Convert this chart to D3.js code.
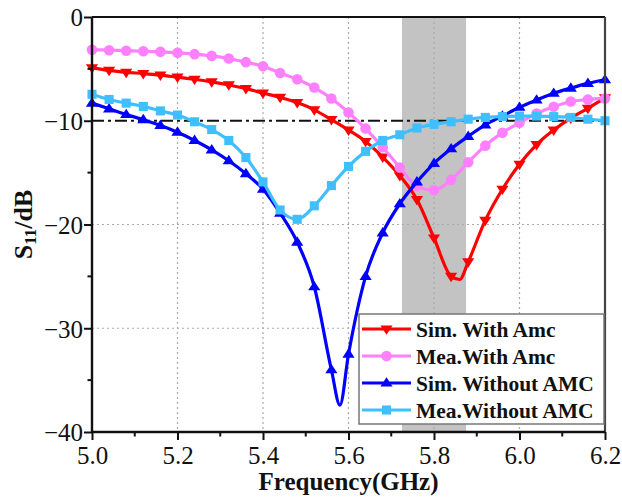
<!DOCTYPE html>
<html>
<head>
<meta charset="utf-8">
<script src="https://cdn.jsdelivr.net/npm/d3@7"></script>
<style>
  html, body { margin: 0; padding: 0; background: #fff; }
  svg { display: block; }
</style>
</head>
<body>
<svg id="chart" width="622" height="500"></svg>
<script>
// Frequency samples (GHz)
const freqMea = [5.00, 5.04, 5.08, 5.12, 5.16, 5.20, 5.24, 5.28, 5.32, 5.36, 5.40,
                 5.44, 5.48, 5.52, 5.56, 5.60, 5.64, 5.68, 5.72, 5.76, 5.80,
                 5.84, 5.88, 5.92, 5.96, 6.00, 6.04, 6.08, 6.12, 6.16, 6.20];
const freqSimWith = [5.00, 5.04, 5.08, 5.12, 5.16, 5.20, 5.24, 5.28, 5.32, 5.36, 5.40,
                     5.44, 5.48, 5.52, 5.56, 5.60, 5.64, 5.68, 5.72, 5.76, 5.80,
                     5.84, 5.86, 5.88, 5.92, 5.96, 6.00, 6.04, 6.08, 6.12, 6.16, 6.20];
const freqSimWithout = [5.00, 5.04, 5.08, 5.12, 5.16, 5.20, 5.24, 5.28, 5.32, 5.36, 5.40,
                        5.44, 5.48, 5.52, 5.56, 5.58, 5.60, 5.64, 5.68, 5.72, 5.76, 5.80,
                        5.84, 5.88, 5.92, 5.96, 6.00, 6.04, 6.08, 6.12, 6.16, 6.20];

// S11 (dB)
const simWithAmc = [-4.9, -5.15, -5.33, -5.45, -5.6, -5.8, -6.0, -6.25, -6.55, -6.9, -7.33,
                    -7.75, -8.25, -8.95, -9.9, -10.9, -12.0, -13.5, -15.3, -17.6, -21.3,
                    -25.0, -25.3, -23.6, -19.6, -16.6, -14.2, -12.3, -10.9, -9.75, -8.8, -7.8];
const meaWithAmc = [-3.15, -3.2, -3.25, -3.3, -3.36, -3.45, -3.58, -3.75, -4.0, -4.35, -4.75,
                    -5.4, -6.0, -6.8, -7.85, -9.2, -10.75, -12.55, -14.5, -16.3, -16.7,
                    -15.7, -14.0, -12.4, -11.15, -10.2, -9.3, -8.65, -8.15, -7.95, -7.85];
const simWithoutAmc = [-8.3, -8.85, -9.4, -9.9, -10.45, -11.1, -11.9, -12.8, -13.85, -15.1, -16.6,
                       -18.9, -21.7, -26.0, -34.0, -37.4, -32.5, -25.0, -20.8, -18.0, -15.9, -14.1,
                       -12.7, -11.5, -10.4, -9.55, -8.7, -8.0, -7.35, -6.85, -6.4, -6.05];
const meaWithoutAmc = [-7.45, -7.95, -8.3, -8.62, -9.05, -9.45, -10.1, -10.85, -11.9, -13.55, -15.9,
                       -18.6, -19.5, -18.2, -16.25, -14.4, -12.95, -11.9, -11.35, -10.7, -10.35,
                       -10.1, -9.85, -9.68, -9.6, -9.55, -9.55, -9.6, -9.68, -9.85, -10.0];

const seriesNames = ["Sim. With Amc", "Mea.With Amc", "Sim. Without AMC", "Mea.Without AMC"];
const seriesColors = ["#ff0000", "#ff80ff", "#0000ff", "#40bfff"];
const seriesSymbols = ["triDown", "circle", "triUp", "square"];

// Axis ticks and reference levels
const xTicks = [5.0, 5.2, 5.4, 5.6, 5.8, 6.0, 6.2];
const xMinorTicks = [5.1, 5.3, 5.5, 5.7, 5.9, 6.1];
const yTicks = [0, -10, -20, -30, -40];
const yMinorTicks = [-5, -15, -25, -35];
const bandRange = [5.725, 5.875];
const thresholdDb = -10;

const FONT = "'Liberation Serif', 'Times New Roman', Times, serif";

const svg = d3.select("#chart");
const margin = { left: 92, top: 17, right: 17, bottom: 68 };
const W = 622, H = 500;
const iw = W - margin.left - margin.right;
const ih = H - margin.top - margin.bottom;

const x = d3.scaleLinear().domain([5.0, 6.2]).range([0, iw]);
const y = d3.scaleLinear().domain([-40, 0]).range([ih, 0]);

const g = svg.append("g").attr("transform", `translate(${margin.left},${margin.top})`);

// Shaded band
g.append("rect")
  .attr("x", x(bandRange[0]))
  .attr("y", 0)
  .attr("width", x(bandRange[1]) - x(bandRange[0]))
  .attr("height", ih)
  .attr("fill", "#c3c3c3");

// Dotted grid
const grid = g.append("g").attr("stroke", "#aaaaaa").attr("stroke-width", 1.2)
  .attr("stroke-dasharray", "2,3");
grid.selectAll("line.vx").data(xTicks.slice(1, -1)).join("line")
  .attr("x1", d => x(d)).attr("x2", d => x(d)).attr("y1", 0).attr("y2", ih);
grid.selectAll("line.hy").data([-20, -30]).join("line")
  .attr("y1", d => y(d)).attr("y2", d => y(d)).attr("x1", 0).attr("x2", iw);

// -10 dB reference (dash-dot)
g.append("line")
  .attr("x1", 0).attr("x2", iw)
  .attr("y1", y(thresholdDb)).attr("y2", y(thresholdDb))
  .attr("stroke", "#111").attr("stroke-width", 2.2)
  .attr("stroke-dasharray", "12,4,3,4");

// Markers
function symbolPath(kind, s) {
  if (kind === "circle") return d3.symbol(d3.symbolCircle, s * s * 0.8)();
  if (kind === "square") return d3.symbol(d3.symbolSquare, s * s * 0.75)();
  const h = s * 0.9, w = s * 0.58;
  if (kind === "triUp") return `M0,${-h * 0.62}L${w},${h * 0.38}L${-w},${h * 0.38}Z`;
  return `M0,${h * 0.62}L${w},${-h * 0.38}L${-w},${-h * 0.38}Z`;
}

const onGrid = f => Math.abs((f - 5) / 0.04 - Math.round((f - 5) / 0.04)) < 1e-6;

const allSeries = [
  { f: freqSimWith, v: simWithAmc },
  { f: freqMea, v: meaWithAmc },
  { f: freqSimWithout, v: simWithoutAmc },
  { f: freqMea, v: meaWithoutAmc }
];

const line = d3.line().x(d => x(d[0])).y(d => y(d[1])).curve(d3.curveMonotoneX);

allSeries.forEach((s, i) => {
  const pts = s.f.map((f, k) => [f, s.v[k]]);
  const sg = g.append("g");
  sg.append("path").datum(pts)
    .attr("d", line)
    .attr("fill", "none")
    .attr("stroke", seriesColors[i])
    .attr("stroke-width", 3.2)
    .attr("stroke-linejoin", "round");
  sg.selectAll("path.m").data(pts.filter(p => onGrid(p[0]))).join("path")
    .attr("class", "m")
    .attr("transform", d => `translate(${x(d[0])},${y(d[1])})`)
    .attr("d", symbolPath(seriesSymbols[i], 10.5))
    .attr("fill", seriesColors[i]);
});

// Axes
const axisStyle = sel => {
  sel.selectAll("text").attr("font-family", FONT).attr("font-size", 25).attr("fill", "#111");
  sel.selectAll("line").attr("stroke", "#111").attr("stroke-width", 2);
  sel.select(".domain").remove();
};

const xAxis = g.append("g").attr("transform", `translate(0,${ih})`)
  .call(d3.axisBottom(x).tickValues(xTicks).tickSize(8).tickPadding(6).tickFormat(d3.format(".1f")));
axisStyle(xAxis);
g.append("g").attr("transform", `translate(0,${ih})`)
  .selectAll("line").data(xMinorTicks).join("line")
  .attr("x1", d => x(d)).attr("x2", d => x(d)).attr("y1", 0).attr("y2", 4.5)
  .attr("stroke", "#111").attr("stroke-width", 2);

const yAxis = g.append("g")
  .call(d3.axisLeft(y).tickValues(yTicks).tickSize(8).tickPadding(1).tickFormat(d3.format("d")));
axisStyle(yAxis);
yAxis.selectAll("text").attr("dy", "0.35em");
g.append("g").selectAll("line").data(yMinorTicks).join("line")
  .attr("y1", d => y(d)).attr("y2", d => y(d)).attr("x1", 0).attr("x2", -4.5)
  .attr("stroke", "#111").attr("stroke-width", 2);

// Frame
g.append("line").attr("x1", 0).attr("x2", iw).attr("y1", 0).attr("y2", 0)
  .attr("stroke", "#111").attr("stroke-width", 2.2);
g.append("line").attr("x1", iw).attr("x2", iw).attr("y1", 0).attr("y2", ih)
  .attr("stroke", "#444").attr("stroke-width", 2.2);
g.append("line").attr("x1", 0).attr("x2", 0).attr("y1", 0).attr("y2", ih)
  .attr("stroke", "#111").attr("stroke-width", 2.4);
g.append("line").attr("x1", 0).attr("x2", iw).attr("y1", ih).attr("y2", ih)
  .attr("stroke", "#111").attr("stroke-width", 2.4);

// Axis titles
svg.append("text")
  .attr("x", margin.left + iw / 2).attr("y", 490)
  .attr("text-anchor", "middle")
  .attr("font-family", FONT).attr("font-size", 25).attr("font-weight", "bold")
  .attr("fill", "#111")
  .text("Frequency(GHz)");

const yl = svg.append("text")
  .attr("transform", `translate(32,${margin.top + ih / 2}) rotate(-90)`)
  .attr("text-anchor", "middle")
  .attr("font-family", FONT).attr("font-size", 26).attr("font-weight", "bold")
  .attr("fill", "#111");
yl.append("tspan").text("S");
yl.append("tspan").attr("font-size", 17).attr("dy", "0.22em").text("11");
yl.append("tspan").attr("dy", "-0.15em").text("/dB");

// Legend
const lg = svg.append("g").attr("transform", "translate(359,314)");
lg.append("rect").attr("width", 245).attr("height", 110)
  .attr("fill", "#fff").attr("stroke", "#777").attr("stroke-width", 1.5);
seriesNames.forEach((name, i) => {
  const cy = 15 + i * 27;
  lg.append("line").attr("x1", 3).attr("x2", 52).attr("y1", cy).attr("y2", cy)
    .attr("stroke", seriesColors[i]).attr("stroke-width", 3.2);
  lg.append("path").attr("transform", `translate(27.5,${cy})`)
    .attr("d", symbolPath(seriesSymbols[i], 10.5)).attr("fill", seriesColors[i]);
  lg.append("text").attr("x", 57).attr("y", cy + 7.5)
    .attr("font-family", FONT).attr("font-size", 21.5).attr("font-weight", "bold")
    .attr("fill", "#111").text(name);
});
</script>
</body>
</html>
